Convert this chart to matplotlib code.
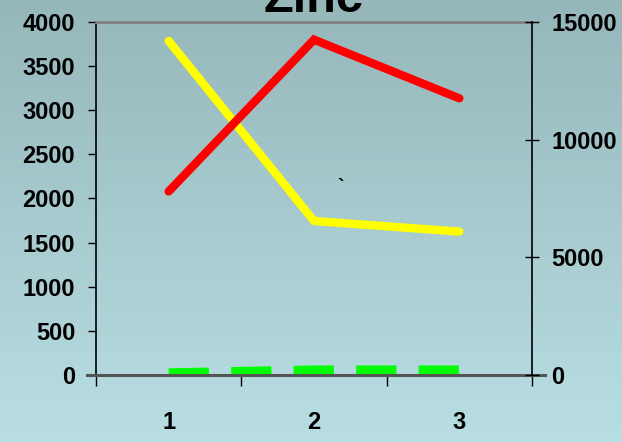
import matplotlib
matplotlib.use('Agg')
import matplotlib.pyplot as plt
import numpy as np
from matplotlib.lines import Line2D

# data
categories = [1, 2, 3]
red_vals = [2080, 3800, 3135]
yellow_vals = [3785, 1745, 1625]
green_vals = [25, 57, 57]

plt.rcParams['font.family'] = ['Liberation Sans', 'DejaVu Sans']
plt.rcParams['font.weight'] = 'bold'
plt.rcParams['lines.scale_dashes'] = False

fig = plt.figure(figsize=(6.22, 4.42), dpi=100)

# background gradient
bg = fig.add_axes([0, 0, 1, 1], zorder=-10)
top = np.array([150, 183, 186]) / 255
bot = np.array([184, 222, 227]) / 255
t = np.linspace(0, 1, 256)[:, None]
grad = top[None, None, :] * (1 - t[:, :, None]) + bot[None, None, :] * t[:, :, None]
bg.imshow(grad, aspect='auto', extent=[0, 1, 0, 1])
bg.axis('off')

ax = fig.add_axes([96 / 622, 67 / 442, 436 / 622, 353 / 442])
ax.patch.set_alpha(0)

ax.plot(categories, yellow_vals, color='#FFFF00', lw=6, solid_capstyle='round', zorder=3)
ax.plot(categories, red_vals, color='#FF0000', lw=6, solid_capstyle='round',
        solid_joinstyle='miter', zorder=4)
ax.plot(categories, green_vals, color='#00FF00', lw=6.5, dashes=(29, 16),
        dash_capstyle='butt', zorder=2)

lab = 17
ax.set_xlim(0.5, 3.5)
ax.set_ylim(0, 4000)
ax.set_yticks(np.arange(0, 4001, 500))
ax.set_xticks(categories)
ax.set_xticklabels(['1', '2', '3'])
ax.set_xticks([0.5, 1.5, 2.5, 3.5], minor=True)
ax.tick_params(axis='x', which='major', length=0, pad=26, labelsize=lab)
ax.tick_params(axis='x', which='minor', length=8, direction='out', color='black', width=1)
ax.tick_params(axis='y', length=6, width=1, direction='out', pad=9, labelsize=lab)

ax.spines['left'].set_color('black')
ax.spines['left'].set_linewidth(1.2)
ax.spines['right'].set_visible(False)
ax.spines['top'].set_color('#808080')
ax.spines['top'].set_linewidth(2)
ax.spines['bottom'].set_visible(False)

# zero line running past both axes
ax.add_line(Line2D([-0.02, 1.03], [0, 0], transform=ax.transAxes, color='#555555',
                   lw=2.2, clip_on=False, zorder=5))

ax2 = ax.twinx()
ax2.set_ylim(0, 15000)
ax2.set_yticks([0, 5000, 10000, 15000])
ax2.tick_params(axis='y', length=10, width=1, direction='inout', pad=9, labelsize=lab)
for s in ['left', 'top', 'bottom']:
    ax2.spines[s].set_visible(False)
ax2.spines['right'].set_color('black')
ax2.spines['right'].set_linewidth(1.2)

ax.text(2.18, 2120, '`', fontsize=14, color='black', ha='center', va='center')

fig.text(313 / 622, 1 - 12 / 442, 'Zinc', fontsize=35, fontweight='bold',
         ha='center', va='baseline')

fig.savefig('out.png', dpi=100)
